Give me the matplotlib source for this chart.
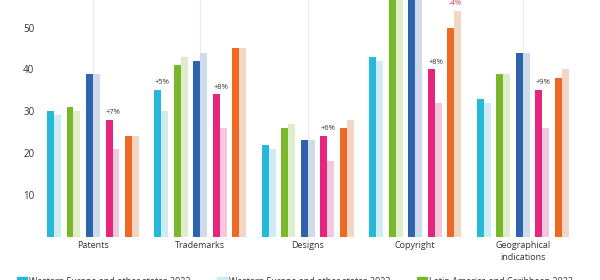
import numpy as np
import matplotlib.pyplot as plt
from matplotlib.patches import Rectangle

plt.rcParams['font.family'] = ['Open Sans', 'DejaVu Sans']

categories = ["Patents", "Trademarks", "Designs", "Copyright", "Geographical\nindications"]
regions = ["Western Europe and other states", "Latin America and Caribbean",
           "Asia and the Pacific", "Central European and Baltic states", "Africa"]
years = ["2022", "2023"]

# share per category, first year (dark) and second year (light)
west_22 = [30, 35, 22, 43, 33]
west_23 = [29, 30, 21, 42, 32]
latam_22 = [31, 41, 26, 60, 39]
latam_23 = [30, 43, 27, 60, 39]
asia_22 = [39, 42, 23, 62, 44]
asia_23 = [39, 44, 23, 62, 44]
ceb_22 = [28, 34, 24, 40, 35]
ceb_23 = [21, 26, 18, 32, 26]
africa_22 = [24, 45, 26, 50, 38]
africa_23 = [24, 45, 28, 54, 40]

dark = [west_22, latam_22, asia_22, ceb_22, africa_22]
light = [west_23, latam_23, asia_23, ceb_23, africa_23]

dark_colors = ["#26b9da", "#78b82a", "#2e63ae", "#e6257d", "#ee6a24"]
light_colors = ["#cfebf4", "#e0edcd", "#cfdbeb", "#f1c8dd", "#f5d6c5"]

# change labels: (category, region, text)
notes = [(0, 3, "+7%"), (1, 0, "+5%"), (1, 3, "+8%"), (2, 3, "+6%"),
         (3, 3, "+8%"), (3, 4, "-4%"), (4, 3, "+9%")]

W, H = 600, 280
fig = plt.figure(figsize=(W / 100, H / 100), dpi=100)
ax = fig.add_axes([40 / W, 43.5 / H, 560 / W, 236.5 / H])

x = np.arange(len(categories))
step = 0.1816
bw = 0.065
for i in range(len(regions)):
    off = (i - 2) * step
    ax.bar(x + off - bw / 2, dark[i], bw, color=dark_colors[i], zorder=3)
    ax.bar(x + off + bw / 2, light[i], bw, color=light_colors[i], zorder=3)

for c, r, txt in notes:
    top = max(dark[r][c], light[r][c])
    col = "#e8334a" if txt.startswith("-") else "#333333"
    ax.text(x[c] + (r - 2) * step + 0.01, top + 0.9, txt, ha="center", va="bottom",
            fontsize=5.5, color=col, zorder=4)

ax.set_xlim(-0.4935, 4.7207)
ax.set_ylim(0, 56.6)
ax.set_xticks(x)
ax.set_xticklabels(categories, fontsize=6.5, color="#333333", linespacing=1.35)
ax.set_yticks([10, 20, 30, 40, 50])
ax.tick_params(axis="y", labelsize=7, colors="#333333", length=0, pad=4)
ax.tick_params(axis="x", length=0, pad=3.5)
ax.grid(axis="x", color="#ebebeb", lw=0.9, zorder=0)
ax.grid(axis="y", visible=False)
ax.set_axisbelow(True)
for s in ax.spines.values():
    s.set_visible(False)

# legend along the bottom (only the first row falls inside the figure)
entries = []
for i, reg in enumerate(regions):
    entries.append((dark_colors[i], reg + " " + years[0]))
    entries.append((light_colors[i], reg + " " + years[1]))
for k, (col, lab) in enumerate(entries):
    lx = 17 + 200 * (k % 3)
    ly = 277 + 14 * (k // 3)
    fig.add_artist(Rectangle((lx / W, 1 - (ly + 10) / H), 10 / W, 10 / H,
                             transform=fig.transFigure, color=col))
    fig.text((lx + 12) / W, 1 - (ly - 0.5) / H, lab, fontsize=6.5,
             color="#333333", va="top", ha="left")

fig.savefig("out.png", dpi=100)
